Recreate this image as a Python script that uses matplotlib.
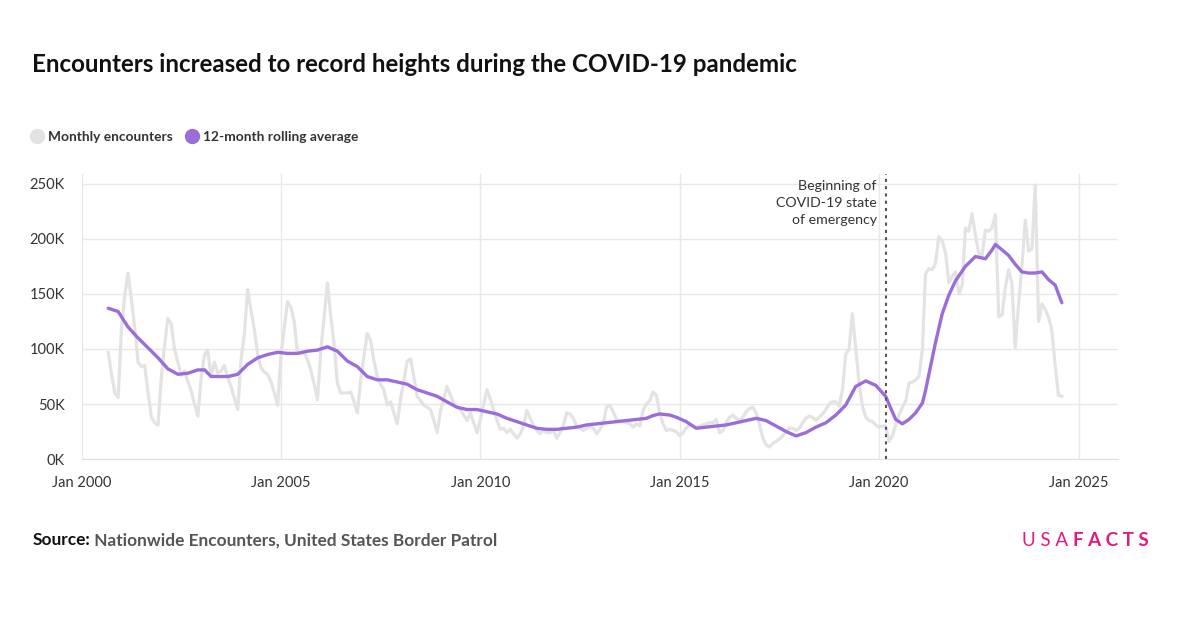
import matplotlib
matplotlib.use("Agg")
import matplotlib.pyplot as plt
import matplotlib.dates as mdates
from matplotlib.lines import Line2D
from matplotlib.ticker import FuncFormatter, MultipleLocator
import pandas as pd

# monthly encounters in thousands, starting Sep 2000
monthly = [
    97, 77, 60, 56, 120, 150, 169, 145, 120, 88, 84, 85,
    60, 38, 33, 31, 75, 105, 128, 123, 100, 88, 76, 80,
    70, 62, 50, 39, 75, 95, 99, 75, 88, 78, 80, 85,
    74, 66, 55, 45, 90, 115, 154, 135, 118, 95, 83, 79,
    77, 70, 60, 49, 95, 120, 143, 138, 125, 96, 96, 97,
    90, 81, 68, 54, 100, 130, 160, 130, 105, 69, 60, 60,
    60, 61, 52, 42, 72, 95, 114, 108, 90, 75, 68, 63,
    49, 52, 42, 32, 55, 72, 89, 91, 75, 57, 53, 49,
    47, 45, 35, 24, 44, 55, 66, 58, 51, 48, 45, 40,
    35, 42, 33, 24, 36, 50, 63, 55, 45, 36, 27, 28,
    24, 27, 23, 19, 23, 30, 44, 37, 31, 26, 23, 26,
    24, 24, 26, 19, 24, 31, 42, 41, 37, 30, 28, 26,
    28, 29, 28, 23, 27, 33, 47, 49, 43, 36, 34, 34,
    33, 32, 29, 32, 30, 45, 50, 53, 61, 58, 42, 32,
    26, 27, 26, 25, 21, 24, 28, 31, 30, 29, 30, 31,
    32, 33, 33, 36, 24, 26, 33, 38, 40, 37, 35, 38,
    43, 46, 47, 42, 31, 19, 13, 11, 14, 16, 18, 21,
    25, 28, 28, 26, 28, 33, 37, 39, 38, 35, 38, 41,
    45, 50, 52, 52, 48, 64, 95, 100, 132, 100, 70, 48,
    38, 35, 34, 31, 29, 30, 30, 16, 21, 31, 40, 47,
    53, 69, 70, 72, 75, 100, 168, 173, 172, 178, 202, 198,
    187, 160, 166, 170, 150, 158, 210, 207, 223, 204, 187, 185,
    208, 207, 210, 222, 129, 131, 155, 172, 160, 101, 140, 175,
    217, 189, 191, 249, 125, 141, 136, 129, 117, 85, 58, 57,
]

# 12-month rolling average (month offset from Sep 2000, thousands)
roll_idx = [0, 3, 6, 9, 12, 15, 18, 21, 24, 27, 29, 31, 33, 36, 39, 42, 45, 48,
            51, 54, 57, 60, 63, 66, 69, 72, 75, 78, 81, 84, 87, 90, 93, 96, 99,
            102, 105, 108, 111, 114, 117, 120, 123, 126, 129, 132, 135, 138,
            141, 144, 147, 150, 153, 156, 159, 162, 164, 166, 169, 171, 174,
            177, 180, 183, 186, 189, 192, 195, 198, 201, 204, 207, 210, 213,
            216, 219, 222, 225, 228, 231, 234, 236, 237, 239, 241, 243, 245,
            246, 247, 249, 251, 253, 255, 258, 261, 264, 266, 267, 269, 271,
            273, 275, 277, 279, 281, 283, 285, 287]
roll_vals = [137, 134, 120, 110, 101, 92, 82, 77, 78, 81, 81, 75, 75, 75, 77,
             86, 92, 95, 97, 96, 96, 98, 99, 102, 98, 89, 84, 75, 72, 72, 70,
             68, 63, 60, 57, 52, 47, 45, 45, 43, 41, 37, 34, 31, 28, 27, 27,
             28, 29, 31, 32, 33, 34, 35, 36, 37, 39.5, 41, 40, 38, 34, 28, 29, 30,
             31, 33, 35, 37, 35, 30, 25, 21, 24, 29, 33, 40, 49, 66, 71, 67, 57,
             43, 36, 32, 36, 42, 51, 62, 77, 106, 132, 149, 162, 175, 184, 182,
             190, 195, 190, 185, 177, 170, 169, 169, 170, 163, 158, 142]

start = pd.Timestamp("2000-09-01")
months = pd.date_range(start, periods=len(monthly), freq="MS")
roll_dates = [start + pd.DateOffset(months=i) for i in roll_idx]
covid_date = pd.Timestamp("2020-03-01")

grey = "#e3e3e3"
purple = "#9b6dd9"
pink = "#e5197d"
text_dark = "#333333"

plt.rcParams["font.family"] = ["Lato", "DejaVu Sans"]

fig = plt.figure(figsize=(12, 6.28), dpi=100)
ax = fig.add_axes([0.068, 0.269, 0.864, 0.454])

ax.plot(months, [v * 1000 for v in monthly], color=grey, lw=2.3, zorder=2)
ax.plot(roll_dates, [v * 1000 for v in roll_vals], color=purple, lw=2.4,
        zorder=3, solid_capstyle="round")

ax.axvline(covid_date, color="#555555", lw=1.5, ls=(0, (1.5, 2)), zorder=4)
ax.text(pd.Timestamp("2019-12-10"), 253500,
        "Beginning of\nCOVID-19 state\nof emergency",
        ha="right", va="top", fontsize=10.2, color=text_dark, linespacing=1.5)

ax.set_xlim(pd.Timestamp("2000-01-01"), pd.Timestamp("2026-01-01"))
ax.set_ylim(0, 259000)
ax.xaxis.set_major_locator(mdates.YearLocator(5))
ax.xaxis.set_major_formatter(mdates.DateFormatter("Jan %Y"))
ax.yaxis.set_major_locator(MultipleLocator(50000))
ax.yaxis.set_major_formatter(FuncFormatter(lambda v, p: f"{int(v / 1000)}K"))

ax.grid(True, color="#e8e8e8", lw=1)
ax.set_axisbelow(True)
for side in ["top", "right", "left"]:
    ax.spines[side].set_visible(False)
ax.spines["bottom"].set_color("#e0e0e0")
ax.tick_params(length=0, labelsize=10.5, colors=text_dark)
ax.tick_params(axis="x", pad=12)
ax.tick_params(axis="y", pad=12)

fig.text(0.027, 0.898, "Encounters increased to record heights during the COVID-19 pandemic",
         fontsize=17.4, fontweight="bold", color="#111111", va="center")

handles = [
    Line2D([], [], ls="", marker="o", markersize=10, color=grey),
    Line2D([], [], ls="", marker="o", markersize=10, color=purple),
]
fig.legend(handles, ["Monthly encounters", "12-month rolling average"],
           loc="center left", bbox_to_anchor=(0.026, 0.782), ncol=2,
           frameon=False, handletextpad=0.3, columnspacing=1.0,
           borderaxespad=0, borderpad=0, handlelength=0.9,
           prop={"weight": "bold", "size": 9.9}, labelcolor=text_dark)

src = fig.text(0.027, 0.14, "Source:", fontsize=12.4, fontweight="bold",
               color="#111111", va="center")
ax.annotate(" Nationwide Encounters, United States Border Patrol",
            xy=(1, 0.5), xycoords=src, ha="left", va="center",
            fontsize=12.4, fontweight="bold", color="#555555",
            annotation_clip=False)

facts = fig.text(0.957, 0.139, "F A C T S", fontsize=13.5, fontweight="bold",
                 color=pink, ha="right", va="center")
ax.annotate("U S A ", xy=(0, 0.5), xycoords=facts, ha="right", va="center",
            fontsize=13.5, fontweight="normal", color=pink,
            annotation_clip=False)

fig.savefig("out.png", dpi=100, facecolor="white")
